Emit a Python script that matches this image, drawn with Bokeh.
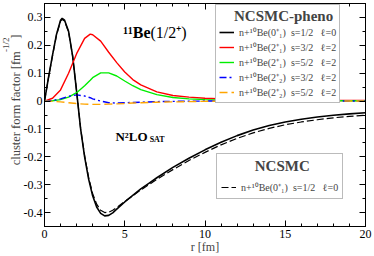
import math
from bokeh.plotting import figure
from bokeh.models import (Legend, LegendItem, LinearAxis, FixedTicker, Label, Range1d, Title)
from bokeh.embed import file_html
from bokeh.resources import INLINE

# ---------------- data ----------------
r_main = [0, 0.25, 0.5, 0.75, 1.0, 1.1, 1.25, 1.5, 1.75, 2.0, 2.25, 2.5, 2.75, 3.0, 3.25,
          3.5, 3.75, 4.0, 4.25, 4.5, 5.0, 5.5, 6.0, 6.5, 7, 8, 9, 10, 11, 12, 13, 14, 15,
          16, 17, 18, 19, 20]
pheno_0p1 = [0, 0.085, 0.165, 0.24, 0.29, 0.297, 0.29, 0.25, 0.163, 0.035, -0.1, -0.2, -0.28,
             -0.34, -0.38, -0.403, -0.412, -0.41, -0.401, -0.388, -0.362, -0.338, -0.315,
             -0.295, -0.275, -0.238, -0.205, -0.175, -0.148, -0.124, -0.104, -0.088, -0.075,
             -0.065, -0.057, -0.051, -0.046, -0.042]
ncsmc_0p1 = [0, 0.084, 0.163, 0.237, 0.287, 0.293, 0.287, 0.248, 0.162, 0.036, -0.098, -0.196,
             -0.274, -0.332, -0.37, -0.392, -0.4, -0.399, -0.392, -0.382, -0.36, -0.34, -0.319,
             -0.3, -0.281, -0.246, -0.213, -0.184, -0.157, -0.134, -0.114, -0.098, -0.085,
             -0.075, -0.067, -0.06, -0.055, -0.051]

r_d = [0, 0.5, 1.0, 1.5, 2.0, 2.5, 2.85, 3.0, 3.5, 4.0, 4.5, 5.0, 5.5, 6.0, 7.0, 8.0, 9.0,
       10, 12, 14, 16, 18, 20]
pheno_2p1_s32 = [0, 0.01, 0.04, 0.1, 0.17, 0.225, 0.24, 0.238, 0.215, 0.175, 0.138, 0.104,
                 0.077, 0.058, 0.033, 0.02, 0.014, 0.01, 0.006, 0.004, 0.003, 0.002, 0.002]
pheno_2p1_s52 = [0, 0.001, 0.005, 0.014, 0.03, 0.055, 0.075, 0.084, 0.101, 0.101, 0.09, 0.072,
                 0.055, 0.041, 0.023, 0.013, 0.008, 0.005, 0.003, 0.002, 0.002, 0.001, 0.001]
pheno_2p2_s32 = [0, 0.002, 0.008, 0.017, 0.022, 0.018, 0.012, 0.008, 0.0, -0.006, -0.007,
                 -0.006, -0.005, -0.004, -0.002, -0.001, -0.0005, 0, 0, 0, 0, 0, 0]
pheno_2p2_s52 = [0, -0.001, -0.003, -0.006, -0.009, -0.011, -0.012, -0.012, -0.012, -0.011,
                 -0.01, -0.009, -0.007, -0.006, -0.004, -0.003, -0.002, -0.001, 0, 0, 0, 0, 0]

x_major = [0, 5, 10, 15, 20]
x_minor = list(range(0, 21))
y_major = [-0.4, -0.3, -0.2, -0.1, 0, 0.1, 0.2, 0.3]
y_labels = ["-0.4", "-0.3", "-0.2", "-0.1", "0", "0.1", "0.2", "0.3"]
y_minor = [round(-0.45 + 0.05 * i, 2) for i in range(17)]

NB = "\u00a0"
labels_pheno = [
    "n+\u00b9\u2070Be(0\u207a\u2081)" + NB * 2 + "s=1/2" + NB * 3 + "\u2113=0",
    "n+\u00b9\u2070Be(2\u207a\u2081)" + NB * 2 + "s=3/2" + NB * 3 + "\u2113=2",
    "n+\u00b9\u2070Be(2\u207a\u2081)" + NB * 2 + "s=5/2" + NB * 3 + "\u2113=2",
    "n+\u00b9\u2070Be(2\u207a\u2082)" + NB * 2 + "s=3/2" + NB * 3 + "\u2113=2",
    "n+\u00b9\u2070Be(2\u207a\u2082)" + NB * 2 + "s=5/2" + NB * 3 + "\u2113=2",
]
label_ncsmc = "n+\u00b9\u2070Be(0\u207a\u2081)" + NB * 2 + "s=1/2" + NB * 3 + "\u2113=0"
y_title = "cluster form factor [fm" + NB * 4 + "]"
y_title_exp = "-1/2"

FONT = "Liberation Serif"

p = figure(width=374, height=256, output_backend="svg", toolbar_location=None,
           x_range=Range1d(0, 20), y_range=Range1d(-0.45, 0.35),
           min_border_left=44, min_border_right=9, min_border_top=3, min_border_bottom=29,
           x_axis_location=None, y_axis_location=None)
p.grid.visible = False
p.outline_line_color = "black"
p.outline_line_width = 1
p.background_fill_color = "white"
p.border_fill_color = "white"


def style_axis(ax, ticks, minor, show_labels, overrides=None):
    ax.ticker = FixedTicker(ticks=ticks, minor_ticks=minor)
    ax.major_tick_in = 6
    ax.major_tick_out = 0
    ax.minor_tick_in = 3
    ax.minor_tick_out = 0
    ax.axis_line_color = "black"
    ax.major_tick_line_color = "black"
    ax.minor_tick_line_color = "black"
    ax.major_label_text_font = FONT
    ax.major_label_text_font_size = "12px" if show_labels else "0px"
    ax.major_label_text_color = "black"
    ax.major_label_standoff = 3 if show_labels else 0
    if overrides:
        ax.major_label_overrides = overrides


bottom = LinearAxis(axis_label="r [fm]")
style_axis(bottom, x_major, x_minor, True)
bottom.major_label_standoff = 3
bottom.axis_label_text_font = FONT
bottom.axis_label_text_font_style = "normal"
bottom.axis_label_text_font_size = "12px"
bottom.axis_label_standoff = -1
p.add_layout(bottom, "below")

left = LinearAxis()
style_axis(left, y_major, y_minor, True, {v: s for v, s in zip(y_major, y_labels)})
left.major_label_standoff = 2
p.add_layout(left, "left")

p.add_layout(Title(text=y_title, text_font=FONT, text_font_style="normal",
                   text_font_size="12.5px", align="right", offset=31, standoff=-4), "left")
p.add_layout(Title(text=y_title_exp, text_font=FONT, text_font_style="normal",
                   text_font_size="9px", align="right", offset=34, standoff=-5), "left")

top = LinearAxis()
style_axis(top, x_major, x_minor, False)
top.major_label_text_color = None
p.add_layout(top, "above")

right = LinearAxis()
style_axis(right, y_major, y_minor, False)
right.major_label_text_color = None
p.add_layout(right, "right")

# curves
l0 = p.line(r_main, pheno_0p1, line_color="black", line_width=1.6)
l1 = p.line(r_d, pheno_2p1_s32, line_color="#ff0000", line_width=1.4)
l2 = p.line(r_d, pheno_2p1_s52, line_color="#00ee00", line_width=1.4)
l3 = p.line(r_d, pheno_2p2_s32, line_color="#0000ff", line_width=1.4, line_dash="7 3 2 3")
l4 = p.line(r_d, pheno_2p2_s52, line_color="#ffa500", line_width=1.4, line_dash="8 4")
l5 = p.line(r_main, ncsmc_0p1, line_color="black", line_width=1.2, line_dash="7 3")


def style_legend(lg, standoff, pad):
    lg.title_text_font = FONT
    lg.title_text_font_style = "bold"
    lg.title_text_font_size = "15px"
    lg.title_standoff = standoff
    lg.label_text_font = FONT
    lg.label_text_font_size = "10px"
    lg.label_height = 12
    lg.label_width = 80
    lg.glyph_height = 12
    lg.glyph_width = 15
    lg.label_standoff = 5
    lg.spacing = 1
    lg.padding = pad
    lg.margin = 0
    lg.border_line_color = "#777777"
    lg.border_line_width = 1
    lg.background_fill_color = "white"
    lg.background_fill_alpha = 1.0


leg1 = Legend(items=[LegendItem(label=t, renderers=[r]) for t, r in
                     zip(labels_pheno, [l0, l1, l2, l3, l4])],
              title=NB * 4 + "NCSMC-pheno", location=(171, 123))
style_legend(leg1, 0, 3)
p.add_layout(leg1, "center")

leg2 = Legend(items=[LegendItem(label=label_ncsmc, renderers=[l5])],
              title=NB * 9 + "NCSMC", location=(172, 27))
style_legend(leg2, 5, 4)
p.add_layout(leg2, "center")

# annotations
p.add_layout(Label(x=4.9, y=0.214, text="\u00b9\u00b9Be", text_font=FONT,
                   text_font_style="bold", text_font_size="16px", text_color="black",
                   text_baseline="bottom"))
p.add_layout(Label(x=6.6, y=0.214, text="(1/2\u207a)", text_font=FONT,
                   text_font_style="normal", text_font_size="16px", text_color="black",
                   text_baseline="bottom"))
p.add_layout(Label(x=4.42, y=-0.155, text="N\u00b2LO", text_font=FONT,
                   text_font_style="bold", text_font_size="13px", text_color="black",
                   text_baseline="bottom"))
p.add_layout(Label(x=6.55, y=-0.155, text="SAT", text_font=FONT,
                   text_font_style="bold", text_font_size="8px", text_color="black",
                   text_baseline="bottom"))

open("out.html", "w").write(file_html(p, INLINE))
